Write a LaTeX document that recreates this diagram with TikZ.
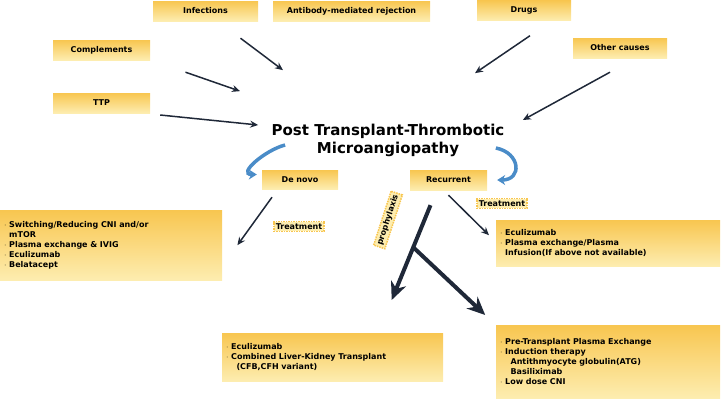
\documentclass[tikz,border=0pt]{standalone}
\usepackage{fontspec}
\setmainfont{DejaVu Sans}
\usetikzlibrary{positioning,arrows.meta,calc}
\definecolor{boxtop}{HTML}{F8C650}
\definecolor{boxbot}{HTML}{FDEDB0}
\definecolor{arr}{HTML}{1F2838}
\definecolor{curv}{HTML}{4A8CC8}

\begin{document}
\begin{tikzpicture}[x=1pt,y=-1pt,
        cause/.style={rectangle, top color=boxtop, bottom color=boxbot, draw=none, minimum height=20pt, font=\fontsize{8}{9}\selectfont\bfseries, inner sep=2pt},
        tag/.style={rectangle, fill=boxbot, draw=boxtop, densely dotted, line width=1.5pt, font=\fontsize{8}{9}\selectfont\bfseries, inner sep=2pt},
        list/.style={rectangle, top color=boxtop, bottom color=boxbot, draw=none, align=left, anchor=north west, font=\fontsize{8}{10}\selectfont\bfseries, inner sep=4pt},
        arrow/.style={-{Stealth[length=8pt,width=7pt]}, arr, line width=1.5pt},
        fat/.style={-{Stealth[length=18pt,width=16pt]}, arr, line width=4pt},
        curl/.style={-{Stealth[length=8pt,width=10pt]}, curv, line width=3.5pt}
    ]
    \useasboundingbox (0,0) rectangle (721,402);

    % Causes
    \node[cause, minimum width=105pt] (infect) at (205.5,11) {Infections};
    \node[cause, minimum width=157pt] (amr) at (351.5,11) {Antibody-mediated rejection};
    \node[cause, minimum width=94pt] (drugs) at (524,10.5) {Drugs};
    \node[cause, minimum width=97pt] (compl) at (101.5,50) {Complements};
    \node[cause, minimum width=94pt] (other) at (620,48) {Other causes};
    \node[cause, minimum width=97pt] (ttp) at (101.5,103) {TTP};

    % Centre
    \node[font=\fontsize{15}{18}\selectfont\bfseries, align=center] (tma) at (388,140) {Post Transplant-Thrombotic\\Microangiopathy};

    % Branches
    \node[cause, minimum width=76pt, minimum height=19pt] (denovo) at (300,179.5) {De novo};
    \node[cause, minimum width=77pt] (recur) at (448.5,180) {Recurrent};
    \node[tag] (treatl) at (299,226.5) {Treatment};
    \node[tag] (treatr) at (502,203.5) {Treatment};
    \node[tag, rotate=72] (proph) at (388,220) {prophylaxis};

    % Lists
    \node[list, text width=214pt, minimum height=70pt] (listl) at (0,210) {%
      $\cdot$\ Switching/Reducing CNI and/or\\
      \phantom{$\cdot$\ }mTOR\\
      $\cdot$\ Plasma exchange \& IVIG\\
      $\cdot$\ Eculizumab\\
      $\cdot$\ Belatacept};
    \node[list, text width=216pt, minimum height=46pt] (listr) at (496,220) {%
      $\cdot$\ Eculizumab\\
      $\cdot$\ Plasma exchange/Plasma\\
      \phantom{$\cdot$\ }Infusion(If above not available)};
    \node[list, text width=213pt, minimum height=48pt] (listm) at (222,333) {%
      $\cdot$\ Eculizumab\\
      $\cdot$\ Combined Liver-Kidney Transplant\\
      \phantom{$\cdot$\ \ \ }(CFB,CFH variant)};
    \node[list, text width=216pt, minimum height=73pt] (listb) at (496,325) {%
      $\cdot$\ Pre-Transplant Plasma Exchange\\
      $\cdot$\ Induction therapy\\
      \phantom{$\cdot$\ \ \ }Antithmyocyte globulin(ATG)\\
      \phantom{$\cdot$\ \ \ }Basiliximab\\
      $\cdot$\ Low dose CNI};

    % Arrows into the centre
    \draw[arrow] ($(infect.south)+(35,17)$) -- ($(tma.north)+(-105,-50)$);
    \draw[arrow] ($(compl.south)+(84,12)$) -- ($(tma.north)+(-148,-29)$);
    \draw[arrow] ($(ttp.east)+(10,12)$) -- ($(tma.west)+(-10,-15)$);
    \draw[arrow] ($(drugs.south)+(6,15)$) -- ($(tma.north)+(87,-47)$);
    \draw[arrow] ($(other.south)+(-10,14)$) -- ($(tma.east)+(15,-20)$);

    % Curved arrows
    \draw[curl] ($(tma.west)+(17,5)$) .. controls +(-20,5) and +(-20,0) .. ($(denovo.west)+(-5,-5)$);
    \draw[curl] ($(tma.east)+(-12,8)$) .. controls +(25,5) and +(25,0) .. ($(recur.east)+(10,0)$);

    % Treatment arrows
    \draw[arrow] ($(denovo.south)+(-28,8)$) -- ($(listl.east)+(15,0)$);
    \draw[arrow] ($(recur.south)+(0,5)$) -- ($(listr.west)+(-7,-8)$);

    % Prophylaxis arrows
    \coordinate (fork) at (414,248);
    \draw[fat] ($(recur.south)+(-18,15)$) -- ($(listm.north)+(59,-33)$);
    \draw[fat] (fork) -- ($(listb.north)+(-123,-10)$);
\end{tikzpicture}
\end{document}
